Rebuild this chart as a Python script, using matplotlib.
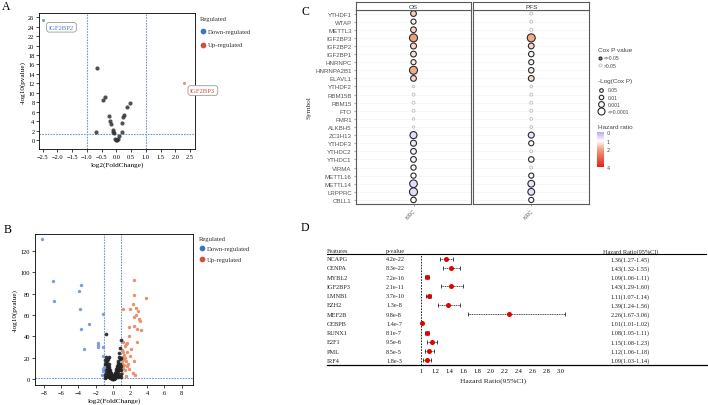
import matplotlib
matplotlib.use("Agg")
import matplotlib.pyplot as plt
import numpy as np
from matplotlib.colors import LinearSegmentedColormap, Normalize

# ---------------- data ----------------
# Panel A (volcano, m6A regulators)
a_ns_fc = [-0.65, -0.45, -0.37, -0.25, -0.22, -0.18, -0.12, -0.10, -0.08, -0.05, 0.00,
           0.02, 0.05, 0.10, 0.18, 0.20, 0.22, 0.25, 0.35, 0.48, -0.70]
a_ns_p = [15.3, 8.5, 9.2, 5.0, 4.0, 3.5, 2.1, 1.8, 1.4, 0.3, 0.1,
          0.0, 0.3, 0.8, 1.7, 3.6, 4.8, 5.3, 6.9, 7.9, 1.6]
a_lab_genes = ["IGF2BP2", "IGF2BP3"]
a_lab_fc = [-2.5, 2.3]
a_lab_p = [25.5, 12.1]
a_lab_reg = ["down", "up"]

# Panel B (volcano, DEGs)
b_down_fc = [-8.2, -7.0, -6.8, -3.7, -3.9, -3.8, -3.7, -2.8, -3.3, -1.2, -1.7, -1.7, -1.7,
             -1.1, -1.2, -1.2, -1.1, -1.3, -1.05]
b_down_p = [131, 92, 73, 88, 82.5, 66, 47, 52, 28, 61, 34, 32, 30,
            30, 22, 9.4, 7.8, 4, 11]
b_up_fc = [2.47, 3.8, 2.4, 1.2, 2.0, 2.3, 2.65, 2.95, 2.5, 3.0, 3.2, 1.9, 2.5, 2.85, 3.25,
           2.7, 2.8, 1.9, 1.6, 1.4, 1.2, 1.5, 1.1, 1.2, 1.3, 1.1, 1.4, 1.2, 1.5, 1.1, 1.3,
           1.6, 1.2, 1.4, 1.1, 1.8, 2.0, 2.4, 1.9, 2.3, 2.6, 1.5, 2.1, 1.7]
b_up_p = [93, 75.7, 79, 66, 65.7, 70, 67, 64, 58, 56, 54, 48.5, 49.4, 47, 46,
          60, 35, 40, 34, 31, 35, 33, 27, 25, 23, 21, 20, 18, 17, 15, 13,
          12, 10, 8, 6, 14, 22, 17, 9, 6, 4, 3, 28, 25]
b_ns_fc = [-0.83, 0.92, 0.84, -0.44, -0.80, -0.60, -0.70, 0.75, 0.70, 0.80, 0.65, 0.60,
           -0.90, -0.50, -0.55, -0.45, -0.40, -0.35, -0.30, -0.25, -0.20, -0.15, -0.10,
           -0.05, 0.00, 0.05, 0.10, 0.15, 0.20, 0.25, 0.30, 0.35, 0.40, 0.45, 0.50, 0.55,
           -0.65, -0.75, -0.85, -0.90, -0.60, -0.50, -0.40, -0.30, -0.20, 0.20, 0.30, 0.40,
           0.50, 0.60, 0.70, 0.80, 0.90, 0.95, 0.90, 0.75, 0.60, -0.70, -0.80, -0.95, 0.95,
           -0.10, 0.00, 0.10, -0.25, 0.25, -0.35, 0.35, -0.45, 0.45, -0.55, 0.55, -0.65,
           0.65, -0.75, 0.85, -0.95, 0.95, -0.15, 0.15, -0.05, 0.05, -0.60, 0.62]
b_ns_p = [42, 37, 29, 21, 21, 19, 17, 24, 21, 19, 17, 15,
          14, 14, 12, 11, 9, 8, 7, 6, 5, 4, 3,
          2, 1, 0.5, 2, 3, 4, 5, 6, 7.5, 9, 10, 12, 13,
          10, 8, 6, 4, 5, 3, 2, 1, 0.5, 0.5, 1.5, 2.5,
          4, 6, 8, 10, 12, 8, 5, 3, 2, 3, 2, 1, 1.5,
          0.2, 0.3, 0.4, 1.5, 1.2, 4, 3.5, 6, 5.5, 7.5, 8, 13,
          11, 15, 14, 18, 20, 1.0, 1.0, 0.8, 0.8, 8.5, 3.0]

# Panel C (bubble plot)
c_genes = ["YTHDF1", "WTAP", "METTL3", "IGF2BP3", "IGF2BP2", "IGF2BP1", "HNRNPC",
           "HNRNPA2B1", "ELAVL1", "YTHDF2", "RBM15B", "RBM15", "FTO", "FMR1", "ALKBH5",
           "ZC3H13", "YTHDF3", "YTHDC2", "YTHDC1", "VIRMA", "METTL16", "METTL14",
           "LRPPRC", "CBLL1"]
c_groups = ["OS", "PFS"]
c_cancer = "KIRC"
os_hr = [1.5, 1.1, 1.4, 2.0, 1.4, 1.3, 1.15, 1.9, 1.4, 1.0, 1.0, 1.0, 1.0, 1.0, 1.0,
         0.6, 0.75, 0.9, 0.9, 0.95, 0.95, 0.6, 0.6, 0.95]
os_logp = [3.0, 2.5, 3.0, 5.0, 3.2, 3.0, 2.5, 4.8, 3.0, 0.3, 0.8, 0.8, 0.7, 0.4, 0.4,
           4.0, 3.2, 3.0, 3.0, 2.6, 2.6, 4.5, 4.8, 2.8]
pfs_hr = [1.0, 1.0, 1.0, 1.9, 1.4, 1.1, 1.05, 1.2, 1.4, 1.0, 1.0, 1.0, 1.0, 1.0, 1.0,
          0.7, 0.95, 1.0, 0.95, 1.0, 0.95, 0.7, 0.7, 0.95]
pfs_logp = [0.8, 0.8, 0.9, 4.8, 3.0, 2.8, 2.5, 2.8, 3.0, 0.5, 0.8, 0.8, 0.8, 0.7, 0.7,
            3.2, 2.5, 0.8, 2.8, 0.8, 2.5, 3.8, 3.8, 2.5]
c_size_levels = [1.301, 2.0, 3.0, 4.0]
c_size_labels = ["0.05", "0.01", "0.001", "<=0.0001"]
c_hr_ticks = [0, 1, 2, 4]

# Panel D (forest plot)
d_genes = ["NCAPG", "CENPA", "MYBL2", "IGF2BP3", "LMNB1", "EZH2", "MEF2B", "CEBPB",
           "RUNX1", "E2F1", "PML", "IRF4"]
d_pval = ["4.2e-22", "8.3e-22", "7.2e-16", "2.1e-11", "3.7e-10", "1.3e-8", "9.8e-8",
          "1.4e-7", "8.1e-7", "9.5e-6", "8.5e-5", "1.8e-3"]
d_hr = [1.36, 1.43, 1.09, 1.43, 1.11, 1.39, 2.26, 1.01, 1.08, 1.15, 1.12, 1.09]
d_lo = [1.27, 1.32, 1.06, 1.29, 1.07, 1.24, 1.67, 1.01, 1.05, 1.08, 1.06, 1.03]
d_hi = [1.45, 1.55, 1.11, 1.60, 1.14, 1.56, 3.06, 1.02, 1.11, 1.23, 1.18, 1.14]
d_ticks = [1, 1.2, 1.4, 1.6, 1.8, 2.0, 2.2, 2.4, 2.6, 2.8, 3.0]
d_ticklabels = ["1", "1.2", "1.4", "1.6", "1.8", "2.0", "2.2", "2.4", "2.6", "2.8", "3.0"]

# ---------------- figure ----------------
W, H = 708, 406
fig = plt.figure(figsize=(W / 100, H / 100), dpi=100)
SERIF = "Liberation Serif"
SANS = "Liberation Sans"
BLUE = "#3f73bf"
RED = "#d0503a"
BLUE_PT = "#7f9fdc"
RED_PT = "#eb8f6c"
LINE_BLUE = "#6f9ad6"


def ax_px(l, t, r, b, **kw):
    return fig.add_axes([l / W, 1 - b / H, (r - l) / W, (b - t) / H], **kw)


def style_volcano(ax):
    for s in ax.spines.values():
        s.set_linewidth(0.6)
    ax.tick_params(length=2, width=0.5, labelsize=4.6, pad=1.5)
    for lab in ax.get_xticklabels() + ax.get_yticklabels():
        lab.set_fontfamily(SERIF)


# ---- Panel A ----
axA = ax_px(39.3, 14, 195, 150)
axA.set_xlim(-2.615, 2.67)
axA.set_ylim(-1.9, 26.9)
axA.axvline(-1, color=LINE_BLUE, lw=0.8, ls=(0, (1.5, 1)), zorder=1)
axA.axvline(1, color=LINE_BLUE, lw=0.8, ls=(0, (1.5, 1)), zorder=1)
axA.axhline(-np.log10(0.05), color=LINE_BLUE, lw=0.8, ls=(0, (1.5, 1)), zorder=1)
axA.scatter(a_ns_fc, a_ns_p, s=9, color="#333333", alpha=0.85, lw=0, zorder=3)
for g, fc, p, reg in zip(a_lab_genes, a_lab_fc, a_lab_p, a_lab_reg):
    col = BLUE_PT if reg == "down" else RED_PT
    tcol = "#4a7cc0" if reg == "down" else "#d24b3a"
    axA.scatter([fc], [p], s=5, color=col, lw=0, zorder=3)
    axA.annotate(g, xy=(fc, p), xytext=(13.5, -5.5), textcoords="offset points",
                 ha="center", va="center", fontsize=4.8, family=SERIF, color=tcol,
                 annotation_clip=False,
                 bbox=dict(boxstyle="round,pad=0.35,rounding_size=0.4", fc="white",
                           ec="#9a9a9a", lw=0.6))
axA.set_xticks(np.arange(-2.5, 2.51, 0.5))
axA.set_yticks(np.arange(0, 27, 2))
style_volcano(axA)
axA.set_xlabel("log2(FoldChange)", fontsize=5.2, family=SERIF, labelpad=2)
axA.set_ylabel("-log10(pvalue)", fontsize=5.2, family=SERIF, labelpad=2)

# ---- Panel B ----
axB = ax_px(35, 235, 193.3, 386)
axB.set_xlim(-9.05, 9.35)
axB.set_ylim(-5.6, 136)
axB.axvline(-1, color=LINE_BLUE, lw=0.8, ls=(0, (1.5, 1)), zorder=1)
axB.axvline(1, color=LINE_BLUE, lw=0.8, ls=(0, (1.5, 1)), zorder=1)
axB.axhline(-np.log10(0.05), color=LINE_BLUE, lw=0.8, ls=(0, (1.5, 1)), zorder=1)
axB.scatter(b_down_fc, b_down_p, s=6, color=BLUE_PT, lw=0, zorder=3)
axB.scatter(b_up_fc, b_up_p, s=6, color=RED_PT, lw=0, zorder=3)
axB.scatter(b_ns_fc, b_ns_p, s=7, color="#222222", alpha=0.9, lw=0, zorder=3)
axB.set_xticks(np.arange(-8, 9, 2))
axB.set_yticks(np.arange(0, 121, 20))
style_volcano(axB)
axB.set_xlabel("log2(FoldChange)", fontsize=5.2, family=SERIF, labelpad=2)
axB.set_ylabel("-log10(pvalue)", fontsize=5.2, family=SERIF, labelpad=2)

# ---- Panel C ----
cmap = LinearSegmentedColormap.from_list(
    "hr", [(0.0, "#b9a8f2"), (0.25, "#ffffff"), (0.5, "#f0a07e"), (1.0, "#e3201b")])
norm = Normalize(0, 4)


def dsize(lp):
    d = 2.0 + 1.25 * min(lp, 4.8)
    return (d * 0.72) ** 2


panels = [(356, 471, os_hr, os_logp), (473.5, 589, pfs_hr, pfs_logp)]
for k, (l, r, hr, lp) in enumerate(panels):
    ax = ax_px(l, 10.5, r, 205)
    y = np.arange(len(c_genes))
    sig = np.array(lp) > 1.301
    fcs = [cmap(norm(h)) if s else "white" for h, s in zip(hr, sig)]
    ecs = ["#2a2a2a" if s else "#bdbdbd" for s in sig]
    lws = [0.8 if s else 0.6 for s in sig]
    ax.scatter(np.zeros(len(c_genes)), y, s=[dsize(v) for v in lp], c=fcs,
               edgecolors=ecs, linewidths=lws, zorder=3)
    ax.set_xlim(-1, 1)
    ax.set_ylim(len(c_genes) - 0.5, -0.5)
    ax.set_yticks(y)
    ax.grid(axis="y", color="#e2e2e2", lw=0.4, ls=(0, (1, 1)), zorder=0)
    ax.set_xticks([0])
    ax.set_xticklabels([c_cancer], rotation=45, ha="right", rotation_mode="anchor",
                       fontsize=3.6, color="#666666", family=SANS)
    ax.tick_params(axis="x", length=1.5, width=0.4, color="#666666", pad=1.5)
    if k == 0:
        ax.set_yticklabels(c_genes, fontsize=4.4, color="#555555", family=SANS)
        ax.tick_params(axis="y", length=1.5, width=0.4, color="#666666", pad=1.5)
        ax.set_ylabel("Symbol", fontsize=5.2, family=SERIF, color="#333333", labelpad=3)
    else:
        ax.set_yticklabels([])
        ax.tick_params(axis="y", length=0)
    for s in ax.spines.values():
        s.set_color("#5a5a5a")
        s.set_linewidth(0.8)
    st = ax_px(l, 3, r, 10.5)
    st.set_xticks([])
    st.set_yticks([])
    for s in st.spines.values():
        s.set_color("#5a5a5a")
        s.set_linewidth(0.8)
    st.text(0.5, 0.45, c_groups[k], ha="center", va="center", fontsize=4.6,
            family=SANS, color="#333333", transform=st.transAxes)

# colorbar for hazard ratio
cax = ax_px(597, 133, 604, 168)
grad = np.linspace(0, 4, 200).reshape(-1, 1)
cax.imshow(grad, aspect="auto", cmap=cmap, norm=norm, extent=[0, 1, 4, 0])
cax.set_xticks([])
cax.set_yticks(c_hr_ticks)
cax.yaxis.tick_right()
cax.tick_params(axis="y", length=0, labelsize=3.6, pad=2, labelcolor="#444444")
for s in cax.spines.values():
    s.set_visible(False)

# ---- Panel D ----
px_per = 70.0
x1px = 421.0
axD = ax_px(327, 247, 707, 366.3)
axD.set_xlim(1 + (327 - x1px) / px_per, 1 + (707 - x1px) / px_per)
n = len(d_genes)
ypos = np.arange(n, 0, -1)
axD.set_ylim(0.46, 13.37)
axD.axhline(12.47, color="black", lw=0.8)
axD.vlines(1, 0.46, 12.47, color="black", lw=0.6, ls=(0, (2, 1.5)))
eb = axD.errorbar(d_hr, ypos, xerr=[np.array(d_hr) - np.array(d_lo),
                                    np.array(d_hi) - np.array(d_hr)],
                  fmt="none", ecolor="black", elinewidth=0.5, capsize=1.6,
                  capthick=0.5, zorder=2)
for lc in eb[2]:
    lc.set_linestyle((0, (1.5, 1)))
axD.plot(d_hr, ypos, "o", color="#e00000", ms=3.6, mew=0, zorder=3)
xl = axD.get_xlim()[0]
tkw = dict(fontsize=4.5, family=SERIF, va="center", color="#222222")
axD.text(xl, 12.86, "Features", ha="left", **tkw)
axD.text(0.5, 12.86, "p-value", ha="left", **tkw)
axD.text(3.99, 12.86, "Hazard Ratio(95%CI)", ha="center", **tkw)
for g, p, h, lo, hi, yy in zip(d_genes, d_pval, d_hr, d_lo, d_hi, ypos):
    axD.text(xl, yy, g, ha="left", **tkw)
    axD.text(0.5, yy, p, ha="left", **tkw)
    axD.text(3.99, yy, f"{h:.2f}({lo:.2f}-{hi:.2f})", ha="center", **tkw)
axD.set_xticks(d_ticks)
axD.set_xticklabels(d_ticklabels, fontsize=4.5, family=SERIF)
axD.tick_params(axis="x", length=0, pad=2)
axD.set_yticks([])
for s in ["top", "left", "right"]:
    axD.spines[s].set_visible(False)
axD.spines["bottom"].set_linewidth(0.9)
axD.text(2.03, -1.15, "Hazard Ratio(95%CI)", ha="center", va="center", fontsize=5.4,
         family=SERIF, color="#222222", clip_on=False)

# ---- overlay: panel letters and legends ----
ov = fig.add_axes([0, 0, 1, 1])
ov.set_xlim(0, W)
ov.set_ylim(H, 0)
ov.axis("off")
ov.patch.set_alpha(0)
for letter, (lx, ly) in zip("ABCD", [(6.5, 7.5), (8, 230), (305, 12), (305, 228)]):
    ov.text(lx, ly, letter, fontsize=8.5, family=SERIF, ha="center", va="center")

for (tx, ty, dy1, dy2) in [(200, 20, 32.3, 46), (199.3, 240, 249.3, 260.3)]:
    ov.text(tx, ty, "Regulated", fontsize=4.8, family=SERIF, va="center", ha="left",
            color="#333333")
    ov.scatter([tx + 2.7], [dy1], s=17, color=BLUE, lw=0)
    ov.scatter([tx + 2.7], [dy2], s=17, color=RED, lw=0)
    ov.text(tx + 8, dy1, "Down-regulated", fontsize=4.8, family=SERIF, va="center",
            color="#333333")
    ov.text(tx + 8, dy2, "Up-regulated", fontsize=4.8, family=SERIF, va="center",
            color="#333333")

lt = dict(family=SANS, color="#444444", va="center", ha="left")
ov.text(597.7, 50, "Cox P value", fontsize=4.6, **lt)
ov.scatter([599.5], [59], s=dsize(0.9), facecolor="#777777", edgecolor="#222222", lw=0.7)
ov.text(604, 59, "<=0.05", fontsize=3.6, **lt)
ov.scatter([599.5], [66], s=dsize(0.9), facecolor="white", edgecolor="#bdbdbd", lw=0.6)
ov.text(604, 66, ">0.05", fontsize=3.6, **lt)
ov.text(597.7, 81.7, "-Log(Cox P)", fontsize=4.6, **lt)
for lv, lab, yy in zip(c_size_levels, c_size_labels, [91, 98.3, 105.3, 112.3]):
    ov.scatter([601], [yy], s=dsize(lv), facecolor="white", edgecolor="#2a2a2a", lw=0.8)
    ov.text(608, yy, lab, fontsize=3.6, **lt)
ov.text(597.7, 127.7, "Hazard ratio", fontsize=4.6, **lt)

fig.savefig("out.png", dpi=100)
